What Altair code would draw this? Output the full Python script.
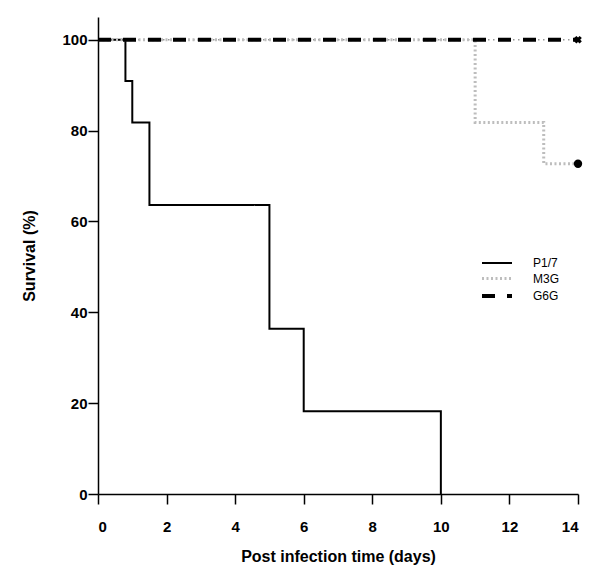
import altair as alt
import pandas as pd

groups = ["P1/7", "M3G", "G6G"]
p17_days = [0, 0.8, 1.0, 1.5, 5, 6, 10]
p17_surv = [100, 90.9, 81.8, 63.6, 36.4, 18.2, 0]
m3g_days = [0, 11, 13, 14]
m3g_surv = [100, 81.8, 72.7, 72.7]
g6g_days = [0, 14]
g6g_surv = [100, 100]
x_ticks = [0, 2, 4, 6, 8, 10, 12, 14]
y_ticks = [0, 20, 40, 60, 80, 100]

rows = []
for g, ds, ss in [("P1/7", p17_days, p17_surv), ("M3G", m3g_days, m3g_surv), ("G6G", g6g_days, g6g_surv)]:
    for d, s in zip(ds, ss):
        rows.append({"group": g, "day": d, "surv": s})
df = pd.DataFrame(rows)

end_df = pd.DataFrame({"group": ["M3G", "G6G"], "day": [m3g_days[-1], g6g_days[-1]],
                       "surv": [m3g_surv[-1], g6g_surv[-1]]})

xenc = alt.X("day:Q", scale=alt.Scale(domain=[0, 14], nice=False, zero=False),
             axis=alt.Axis(values=x_ticks, title="Post infection time (days)", format="d",
                           labelPadding=15, titlePadding=14))
yenc = alt.Y("surv:Q", scale=alt.Scale(domain=[0, 105], nice=False),
             axis=alt.Axis(values=y_ticks, title="Survival (%)", labelPadding=1, titlePadding=24))

legend_cfg = dict(title=None, orient="none", legendX=392, legendY=240,
                  symbolType="M-3,0H3", symbolSize=100, symbolStrokeWidth=2,
                  symbolFillColor="transparent",
                  labelFontSize=12, labelFont="Liberation Sans", labelColor="black",
                  labelOffset=29, rowPadding=3)

g6g_dots = alt.Chart(df[df.group == "G6G"]).mark_line(
    interpolate="step-after", color="#999999", strokeDash=[1.5, 3.5], strokeWidth=1.5
).encode(x=xenc, y=yenc)

lines = alt.Chart(df).mark_line(interpolate="step-after").encode(
    x=xenc, y=yenc,
    color=alt.Color("group:N", scale=alt.Scale(domain=groups, range=["black", "#bdbdbd", "black"]),
                    legend=alt.Legend(**legend_cfg)),
    strokeDash=alt.StrokeDash("group:N", scale=alt.Scale(domain=groups, range=[[1, 0], [2, 2.5], [13, 12]]),
                              legend=alt.Legend(**legend_cfg)),
    strokeWidth=alt.StrokeWidth("group:N", scale=alt.Scale(domain=groups, range=[2, 4, 2]), legend=None),
    order=alt.Order("day:Q"),
)

circle = alt.Chart(end_df[end_df.group == "M3G"]).mark_point(
    shape="circle", filled=True, color="black", size=70, opacity=1
).encode(x=xenc, y=yenc)

cross = alt.Chart(end_df[end_df.group == "G6G"]).mark_point(
    shape="cross", filled=True, color="black", size=60, angle=45, opacity=1
).encode(x=xenc, y=yenc)

chart = alt.layer(g6g_dots, lines, circle, cross).properties(
    width=480, height=477,
    autosize=alt.AutoSizeParams(type="none"),
    padding={"left": 90, "top": 9, "right": 14, "bottom": 75},
).configure_view(stroke=None).configure_axis(
    grid=False, domainColor="black", domainWidth=1.5, tickColor="black", tickWidth=1.5,
    tickSize=10, labelFont="Liberation Sans", labelFontWeight="bold", labelFontSize=15,
    labelColor="black", titleFont="Liberation Sans", titleFontWeight="bold", titleFontSize=16,
    titleColor="black",
)

chart.save("out.html", embed_options={"renderer": "svg", "actions": False})
